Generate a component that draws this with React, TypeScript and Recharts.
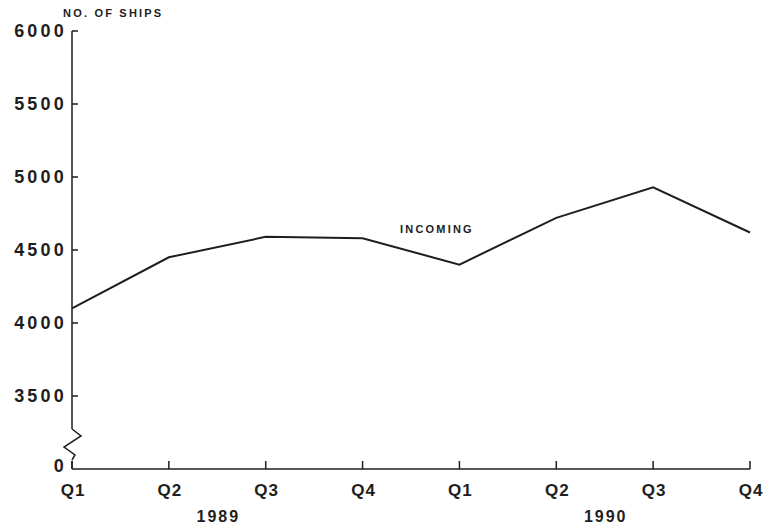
import React from 'react';
import { LineChart, Line, XAxis, YAxis } from 'recharts';

// quarters, two years
const YEARS = ['1989', '1990'];
const QUARTERS = ['Q1', 'Q2', 'Q3', 'Q4'];
// incoming ships per quarter, 1989 Q1 .. 1990 Q4
const INCOMING = [4100, 4450, 4590, 4580, 4400, 4720, 4930, 4620];
// axis ticks; the lowest one stands for the broken-off 0
const Y_TICKS = [3000, 3500, 4000, 4500, 5000, 5500, 6000];
const YEAR_TICKS = [1.5, 5.5];

const INK = '#1e1e1e';
const FONT = '"Liberation Sans", Arial, sans-serif';

const data = INCOMING.map((v, i) => ({
  key: `${YEARS[Math.floor(i / 4)]} ${QUARTERS[i % 4]}`,
  idx: i,
  incoming: v,
}));

const YTick = (props: any) => {
  const { x, y, payload } = props;
  const isZero = payload.value === Y_TICKS[0];
  return (
    <g>
      {!isZero && <line x1={x} x2={x + 6} y1={y} y2={y} stroke={INK} strokeWidth={1.5} />}
      <text
        x={x - 5}
        y={isZero ? y - 3 : y}
        dy="0.36em"
        textAnchor="end"
        fill={INK}
        fontFamily={FONT}
        fontWeight="bold"
        fontSize={18}
        letterSpacing={3.2}
      >
        {isZero ? '0' : payload.value}
      </text>
      {isZero && (
        <g>
          {/* axis break */}
          <rect x={x - 2} y={y - 40} width={4} height={32} fill="#fff" />
          <path
            d={`M${x},${y - 40} L${x + 9},${y - 33} L${x - 8},${y - 22} L${x + 3},${y - 14} L${x},${y - 9}`}
            fill="none"
            stroke={INK}
            strokeWidth={1.5}
          />
        </g>
      )}
    </g>
  );
};

const XTick = (props: any) => {
  const { x, y, payload } = props;
  const q = String(payload.value).split(' ')[1];
  return (
    <g>
      <line x1={x} x2={x} y1={y} y2={y - 8} stroke={INK} strokeWidth={1.5} />
      <text
        x={x + 1}
        y={y + 21}
        dy="0.36em"
        textAnchor="middle"
        fill={INK}
        fontFamily={FONT}
        fontWeight="bold"
        fontSize={17}
        letterSpacing={1}
      >
        {q}
      </text>
    </g>
  );
};

const YearTick = (props: any) => {
  const { x, y, payload } = props;
  return (
    <text
      x={x + 1}
      y={y + 12}
      dy="0.36em"
      textAnchor="middle"
      fill={INK}
      fontFamily={FONT}
      fontWeight="bold"
      fontSize={16}
      letterSpacing={2}
    >
      {YEARS[YEAR_TICKS.indexOf(payload.value)]}
    </text>
  );
};

const textStyle: React.CSSProperties = {
  position: 'absolute',
  fontFamily: FONT,
  fontWeight: 'bold',
  fontSize: 11,
  letterSpacing: 2.2,
  color: INK,
  whiteSpace: 'nowrap',
};

export default function App() {
  return (
    <div style={{ position: 'absolute', left: 0, top: 0, width: 764, height: 531, background: '#fff' }}>
      <LineChart width={764} height={531} data={data} margin={{ top: 31, right: 14, left: 0, bottom: 0 }}>
        <XAxis
          dataKey="key"
          height={35}
          axisLine={{ stroke: INK, strokeWidth: 1.5 }}
          tickLine={false}
          tickSize={0}
          tickMargin={0}
          interval={0}
          tick={<XTick />}
        />
        <XAxis
          xAxisId="year"
          dataKey="idx"
          type="number"
          domain={[0, 7]}
          ticks={YEAR_TICKS}
          allowDataOverflow
          height={27}
          axisLine={false}
          tickLine={false}
          tickSize={0}
          tickMargin={0}
          tick={<YearTick />}
        />
        <YAxis
          width={72}
          domain={[3000, 6000]}
          ticks={Y_TICKS}
          interval={0}
          axisLine={{ stroke: INK, strokeWidth: 1.5 }}
          tickLine={false}
          tickSize={0}
          tickMargin={0}
          tick={<YTick />}
        />
        <Line
          dataKey="incoming"
          type="linear"
          stroke={INK}
          strokeWidth={2}
          dot={false}
          isAnimationActive={false}
        />
      </LineChart>
      <div style={{ ...textStyle, left: 63, top: 7 }}>NO. OF SHIPS</div>
      <div style={{ ...textStyle, left: 400, top: 223 }}>INCOMING</div>
    </div>
  );
}
